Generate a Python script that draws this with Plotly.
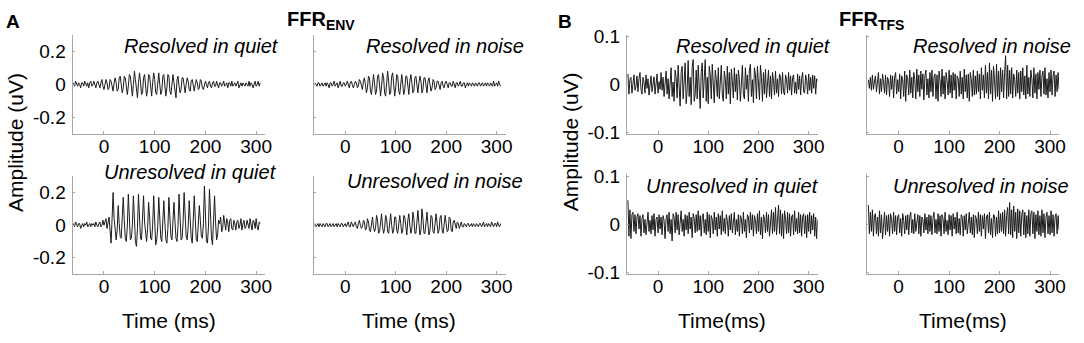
import plotly.graph_objects as go

# ---------------- data ----------------
time_env = list(range(-60, 310, 2))   # ms, panel A
time_tfs = list(range(-60, 320, 2))   # ms, panel B

env_resolved_quiet = [
    0.01, -0.01, 0.02, 0.00, -0.01, 0.01, 0.00, -0.02, 0.01, 0.01,
    -0.01, 0.02, 0.00, -0.01, 0.01, -0.02, 0.01, 0.02, -0.01, 0.00,
    0.02, -0.01, -0.02, 0.01, 0.02, 0.00, -0.02, 0.01, 0.03, -0.01,
    -0.03, 0.00, 0.03, 0.01, -0.03, -0.02, 0.03, 0.02, -0.02, -0.04,
    0.01, 0.04, 0.01, -0.04, -0.03, 0.04, 0.05, -0.01, -0.05, -0.02,
    0.05, 0.04, -0.03, -0.06, -0.01, 0.06, 0.05, -0.04, -0.07, 0.00,
    0.08, 0.03, -0.05, -0.08, 0.01, 0.07, 0.02, -0.06, -0.05, 0.04,
    0.06, -0.01, -0.07, -0.03, 0.06, 0.05, -0.04, -0.07, 0.01, 0.07,
    0.03, -0.05, -0.06, 0.03, 0.07, 0.00, -0.06, -0.04, 0.05, 0.06,
    -0.02, -0.07, -0.02, 0.06, 0.05, -0.04, -0.06, 0.02, 0.06, 0.01,
    -0.06, -0.08, 0.03, 0.05, -0.01, -0.05, -0.03, 0.04, 0.04, -0.02,
    -0.05, 0.00, 0.04, 0.02, -0.03, -0.04, 0.02, 0.03, -0.01, -0.04,
    0.00, 0.03, 0.01, -0.03, -0.02, 0.03, 0.02, -0.02, -0.03, 0.01,
    0.02, 0.00, -0.02, 0.01, 0.02, -0.01, -0.02, 0.01, 0.02, -0.01,
    -0.01, 0.02, 0.00, -0.02, 0.01, 0.01, -0.01, 0.00, 0.02, -0.01,
    0.00, 0.01, -0.02, 0.01, 0.01, -0.01, 0.02, -0.01, 0.00, 0.01,
    -0.01, 0.01, 0.02, -0.02, 0.00, 0.01, -0.01, 0.01, 0.00, -0.01,
    0.01, 0.00, -0.01, 0.02, -0.01, 0.01, 0.00, -0.02, 0.01, 0.02,
    -0.01, 0.00, 0.02, -0.01, 0.01,
]

env_resolved_noise = [
    0.01, 0.00, -0.01, 0.01, 0.01, -0.01, 0.00, 0.01, -0.01, 0.00,
    0.01, -0.01, 0.01, 0.00, -0.02, 0.01, 0.01, -0.01, 0.00, 0.02,
    -0.01, 0.00, 0.01, -0.02, 0.01, 0.02, -0.01, -0.01, 0.01, 0.01,
    -0.01, 0.00, 0.02, -0.01, -0.02, 0.01, 0.02, 0.00, -0.02, 0.00,
    0.02, 0.01, -0.02, -0.01, 0.03, 0.02, -0.02, -0.03, 0.02, 0.04,
    0.00, -0.05, -0.02, 0.05, 0.04, -0.04, -0.06, 0.02, 0.06, 0.01,
    -0.06, -0.04, 0.05, 0.06, -0.02, -0.07, -0.01, 0.07, 0.04, -0.05,
    -0.07, 0.02, 0.08, 0.02, -0.06, -0.05, 0.05, 0.07, -0.02, -0.07,
    -0.02, 0.06, 0.05, -0.04, -0.06, 0.03, 0.06, 0.00, -0.06, -0.03,
    0.05, 0.05, -0.03, -0.06, 0.02, 0.06, 0.01, -0.05, -0.04, 0.04,
    0.05, -0.02, -0.05, 0.01, 0.05, 0.02, -0.05, -0.03, 0.04, 0.04,
    -0.02, -0.05, 0.02, 0.04, 0.00, -0.04, -0.02, 0.03, 0.02, -0.03,
    -0.02, 0.02, 0.02, -0.01, -0.03, 0.01, 0.02, -0.01, -0.02, 0.01,
    0.02, 0.00, -0.02, 0.01, 0.01, -0.01, -0.01, 0.02, 0.00, -0.02,
    0.01, 0.01, -0.01, 0.00, 0.02, -0.01, -0.01, 0.01, 0.01, -0.02,
    0.00, 0.01, -0.01, 0.01, 0.00, -0.01, 0.01, 0.00, -0.01, 0.01,
    0.00, -0.01, 0.01, 0.01, -0.01, 0.00, 0.01, -0.01, 0.00, 0.01,
    -0.01, 0.01, 0.00, -0.01, 0.01, 0.00, -0.01, 0.02, -0.01, 0.00,
    0.01, -0.01, 0.02, 0.00, -0.01,
]

env_unresolved_quiet = [
    0.01, -0.01, 0.02, 0.00, -0.01, 0.01, 0.01, -0.02, 0.00, 0.01,
    -0.01, 0.01, 0.00, 0.02, -0.01, 0.00, 0.01, -0.01, 0.01, 0.00,
    0.01, -0.01, 0.02, 0.00, -0.01, 0.01, 0.02, -0.01, 0.00, 0.03,
    0.00, 0.02, 0.04, -0.02, 0.01, 0.05, -0.03, -0.11, 0.04, 0.20,
    0.04, -0.06, -0.09, -0.03, 0.12, 0.01, -0.07, -0.08, 0.02, 0.17,
    0.03, -0.08, -0.10, -0.01, 0.19, 0.02, -0.09, -0.08, 0.00, 0.18,
    0.04, -0.10, -0.13, -0.02, 0.19, 0.03, -0.08, -0.09, 0.01, 0.18,
    0.02, -0.07, -0.10, -0.02, 0.14, 0.05, -0.08, -0.09, 0.00, 0.18,
    0.03, -0.12, -0.09, -0.01, 0.17, 0.04, -0.08, -0.10, 0.00, 0.15,
    0.02, -0.09, -0.11, -0.02, 0.17, 0.03, -0.07, -0.09, 0.01, 0.14,
    0.02, -0.08, -0.10, 0.00, 0.19, 0.04, -0.09, -0.08, 0.02, 0.20,
    0.03, -0.07, -0.09, -0.01, 0.15, 0.02, -0.08, -0.11, 0.00, 0.18,
    0.04, -0.09, -0.10, -0.02, 0.12, 0.03, -0.07, -0.08, 0.01, 0.24,
    0.05, -0.10, -0.11, -0.01, 0.22, 0.03, -0.08, -0.12, 0.00, 0.18,
    0.02, -0.09, -0.06, 0.03, 0.01, 0.05, -0.04, -0.02, 0.06, 0.00,
    -0.03, 0.04, 0.02, -0.04, 0.03, 0.04, -0.02, -0.03, 0.03, 0.01,
    -0.03, 0.02, 0.03, -0.02, 0.00, 0.04, -0.03, 0.01, 0.03, -0.02,
    -0.01, 0.03, 0.00, -0.02, 0.04, -0.01, -0.03, 0.03, 0.02, -0.02,
    0.04, -0.01, -0.03, 0.02, 0.01,
]

env_unresolved_noise = [
    0.01, -0.01, 0.00, 0.01, -0.01, 0.01, 0.00, -0.01, 0.01, 0.00,
    -0.01, 0.01, 0.01, -0.01, 0.00, 0.01, -0.01, 0.00, 0.01, -0.01,
    0.00, 0.01, -0.01, 0.01, 0.00, -0.01, 0.01, 0.01, -0.01, 0.00,
    0.01, -0.01, 0.01, 0.02, -0.01, -0.01, 0.02, 0.00, -0.01, 0.01,
    0.02, -0.01, -0.02, 0.01, 0.03, 0.00, -0.02, -0.01, 0.03, 0.02,
    -0.03, -0.02, 0.04, 0.02, -0.03, -0.04, 0.03, 0.05, -0.01, -0.04,
    -0.02, 0.06, 0.03, -0.05, -0.04, 0.03, 0.07, -0.01, -0.05, -0.02,
    0.06, 0.04, -0.04, -0.05, 0.02, 0.07, 0.00, -0.05, -0.03, 0.05,
    0.05, -0.03, -0.05, 0.02, 0.06, 0.01, -0.05, -0.03, 0.06, 0.05,
    -0.03, -0.06, 0.03, 0.07, 0.00, -0.05, -0.02, 0.08, 0.04, -0.05,
    -0.05, 0.04, 0.09, 0.01, -0.06, -0.03, 0.10, 0.04, -0.05, -0.05,
    0.03, 0.08, 0.00, -0.06, -0.03, 0.06, 0.05, -0.04, -0.05, 0.03,
    0.07, 0.01, -0.05, -0.03, 0.05, 0.06, -0.03, -0.05, 0.02, 0.06,
    0.01, -0.04, -0.03, 0.05, 0.04, -0.03, -0.04, 0.02, 0.03, -0.01,
    -0.02, 0.02, 0.01, -0.02, 0.00, 0.02, -0.01, -0.01, 0.01, 0.00,
    -0.01, 0.01, 0.01, -0.01, 0.00, 0.01, -0.01, 0.01, 0.00, -0.01,
    0.01, 0.00, -0.01, 0.01, 0.01, -0.01, 0.00, 0.02, -0.01, 0.00,
    0.01, -0.01, 0.01, 0.00, -0.01, 0.02, 0.00, -0.01, 0.01, 0.01,
    -0.01, 0.02, 0.00, -0.01, 0.01,
]

tfs_resolved_quiet = [
    0.022, -0.020, 0.010, 0.015, -0.018, 0.005, 0.020, -0.012, -0.005, 0.018,
    -0.015, 0.012, 0.025, -0.010, -0.020, 0.015, 0.005, -0.018, 0.020, -0.008,
    0.012, -0.022, 0.008, 0.018, -0.015, 0.003, 0.016, -0.020, 0.010, 0.022,
    -0.018, 0.006, -0.010, 0.025, -0.012, 0.015, -0.025, 0.010, 0.028, -0.020,
    0.012, -0.030, 0.020, 0.035, -0.025, 0.005, -0.035, 0.030, 0.015, -0.028,
    0.040, -0.015, -0.045, 0.025, 0.038, -0.030, 0.010, 0.045, -0.040, -0.010,
    0.050, -0.025, 0.015, -0.042, 0.035, 0.052, -0.035, -0.020, 0.030, -0.030,
    0.040, -0.018, -0.050, 0.025, 0.045, -0.028, 0.010, 0.052, -0.035, 0.015,
    -0.040, 0.038, 0.020, -0.030, 0.042, -0.015, -0.038, 0.030, 0.010, -0.025,
    0.035, -0.030, 0.015, 0.040, -0.022, -0.035, 0.028, 0.012, -0.030, 0.038,
    -0.020, 0.025, -0.040, 0.032, 0.008, -0.028, 0.035, -0.015, 0.022, -0.032,
    0.030, 0.010, -0.035, 0.025, 0.040, -0.020, -0.030, 0.035, -0.010, 0.020,
    -0.035, 0.030, 0.042, -0.025, 0.010, -0.038, 0.035, 0.020, -0.030, 0.038,
    -0.015, -0.032, 0.040, 0.015, -0.035, 0.025, -0.020, 0.032, -0.028, 0.010,
    0.030, -0.025, 0.018, -0.030, 0.025, 0.008, -0.022, 0.028, -0.018, 0.012,
    -0.025, 0.022, 0.015, -0.020, 0.025, -0.015, -0.022, 0.020, 0.010, -0.018,
    0.025, -0.012, 0.018, -0.022, 0.015, 0.020, -0.018, 0.005, -0.020, 0.022,
    -0.010, 0.018, -0.022, 0.012, 0.025, -0.015, -0.018, 0.020, 0.008, -0.020,
    0.022, -0.012, 0.015, -0.018, 0.020, -0.008, 0.018, -0.020, 0.012, 0.008,
]

tfs_resolved_noise = [
    0.010, -0.008, 0.015, -0.012, 0.020, -0.010, 0.005, 0.018, -0.015, 0.010,
    0.025, -0.020, 0.012, -0.015, 0.022, 0.005, -0.018, 0.020, -0.022, 0.015,
    0.008, -0.025, 0.020, -0.010, 0.018, -0.028, 0.015, 0.025, -0.020, 0.010,
    -0.015, 0.022, -0.030, 0.018, 0.010, -0.025, 0.028, -0.035, 0.020, 0.012,
    -0.022, 0.030, -0.018, 0.015, -0.028, 0.025, 0.010, -0.030, 0.032, -0.015,
    0.020, -0.025, 0.028, -0.010, 0.022, -0.032, 0.018, 0.030, -0.022, 0.012,
    -0.028, 0.025, -0.015, 0.030, -0.025, 0.015, 0.022, -0.030, 0.020, -0.035,
    0.028, 0.010, -0.025, 0.032, -0.020, 0.018, -0.030, 0.025, 0.008, -0.022,
    0.030, -0.018, 0.020, -0.028, 0.025, -0.012, 0.022, -0.030, 0.018, 0.012,
    -0.025, 0.028, -0.020, 0.015, -0.030, 0.032, -0.015, 0.020, -0.028, 0.022,
    -0.035, 0.025, 0.010, -0.025, 0.030, -0.022, 0.018, -0.020, 0.028, -0.015,
    0.022, -0.030, 0.035, -0.012, 0.020, -0.028, 0.040, -0.018, 0.025, -0.030,
    0.045, -0.020, 0.030, -0.035, 0.038, 0.010, -0.030, 0.042, -0.025, 0.028,
    -0.032, 0.035, -0.015, 0.030, -0.028, 0.025, 0.060, -0.030, 0.040, -0.025,
    0.030, -0.020, 0.035, -0.028, 0.022, 0.010, -0.025, 0.030, -0.018, 0.025,
    -0.030, 0.028, -0.015, 0.035, -0.022, 0.018, -0.030, 0.040, -0.020, 0.015,
    -0.025, 0.030, 0.012, -0.028, 0.035, -0.018, 0.022, -0.030, 0.025, -0.010,
    0.030, -0.025, 0.018, 0.028, -0.020, 0.035, -0.022, 0.012, -0.028, 0.025,
    -0.015, 0.030, -0.022, 0.018, 0.028, -0.025, 0.020, -0.015, 0.025, -0.010,
]

tfs_unresolved_quiet = [
    0.050, -0.025, 0.030, -0.030, 0.020, 0.025, -0.015, 0.020, -0.020, 0.015,
    0.022, -0.010, 0.018, -0.025, 0.012, 0.020, -0.018, 0.010, -0.022, 0.015,
    0.025, -0.015, 0.008, -0.020, 0.018, -0.012, 0.022, -0.025, 0.010, 0.015,
    -0.018, 0.020, -0.010, 0.015, -0.022, 0.018, 0.008, -0.030, 0.012, 0.020,
    -0.015, 0.025, -0.020, 0.010, -0.035, 0.022, 0.015, -0.018, 0.025, -0.012,
    0.020, -0.022, 0.015, 0.028, -0.015, 0.010, -0.025, 0.020, -0.012, 0.018,
    -0.020, 0.025, -0.010, 0.015, -0.028, 0.022, 0.012, -0.018, 0.020, -0.015,
    0.028, -0.012, 0.018, -0.025, 0.015, 0.022, -0.018, 0.010, -0.022, 0.025,
    -0.015, 0.020, -0.028, 0.018, 0.010, -0.020, 0.025, -0.012, 0.015, -0.025,
    0.022, -0.010, 0.018, -0.022, 0.028, -0.015, 0.012, -0.020, 0.020, 0.008,
    -0.025, 0.018, -0.012, 0.022, -0.018, 0.015, 0.025, -0.022, 0.010, -0.015,
    0.020, -0.025, 0.018, 0.012, -0.020, 0.025, -0.015, 0.010, -0.028, 0.020,
    0.015, -0.018, 0.025, -0.012, 0.020, -0.025, 0.018, 0.008, -0.020, 0.022,
    -0.015, 0.028, -0.022, 0.015, -0.030, 0.020, 0.012, -0.018, 0.025, -0.015,
    0.020, -0.025, 0.015, 0.030, -0.020, 0.025, -0.015, 0.035, -0.022, 0.018,
    0.040, -0.020, 0.030, -0.025, 0.022, -0.030, 0.028, 0.010, -0.020, 0.025,
    -0.018, 0.022, -0.025, 0.015, 0.020, -0.022, 0.028, -0.015, 0.012, -0.020,
    0.025, -0.018, 0.020, -0.025, 0.015, 0.022, -0.020, 0.018, -0.028, 0.020,
    -0.015, 0.025, -0.020, 0.018, -0.012, 0.022, -0.025, 0.015, -0.030, 0.010,
]

tfs_unresolved_noise = [
    0.040, -0.020, 0.025, -0.015, 0.030, -0.025, 0.018, 0.022, -0.020, 0.015,
    -0.025, 0.028, -0.018, 0.020, -0.030, 0.012, 0.025, -0.022, 0.018, -0.015,
    0.020, -0.025, 0.022, 0.010, -0.020, 0.025, -0.015, 0.018, -0.022, 0.015,
    0.020, -0.018, 0.012, -0.025, 0.022, 0.008, -0.020, 0.018, -0.012, 0.020,
    -0.022, 0.015, 0.025, -0.018, 0.010, -0.020, 0.022, -0.015, 0.012, 0.020,
    -0.020, 0.018, -0.025, 0.015, 0.010, -0.018, 0.022, -0.012, 0.015, -0.020,
    0.020, -0.015, 0.018, -0.022, 0.012, 0.025, -0.018, 0.010, -0.020, 0.022,
    -0.015, 0.018, -0.025, 0.020, 0.012, -0.020, 0.025, -0.015, 0.008, -0.022,
    0.020, -0.012, 0.018, -0.025, 0.022, -0.010, 0.015, -0.020, 0.025, -0.018,
    0.012, -0.022, 0.020, 0.015, -0.025, 0.018, -0.012, 0.022, -0.020, 0.010,
    0.025, -0.018, 0.015, -0.022, 0.020, -0.028, 0.018, 0.012, -0.020, 0.025,
    -0.015, 0.020, -0.025, 0.018, -0.010, 0.022, -0.030, 0.015, 0.020, -0.018,
    0.025, -0.022, 0.012, -0.028, 0.020, 0.018, -0.025, 0.015, -0.020, 0.028,
    -0.018, 0.022, -0.015, 0.025, -0.020, 0.030, -0.025, 0.018, 0.035, -0.020,
    0.045, -0.022, 0.030, -0.028, 0.038, -0.015, 0.025, -0.030, 0.032, -0.018,
    0.028, -0.025, 0.020, 0.030, -0.022, 0.025, -0.028, 0.018, -0.020, 0.030,
    -0.025, 0.022, 0.028, -0.020, 0.025, -0.030, 0.020, -0.015, 0.028, -0.022,
    0.018, -0.025, 0.030, -0.018, 0.022, -0.028, 0.015, 0.025, -0.020, 0.018,
    -0.022, 0.028, -0.018, 0.020, -0.025, 0.015, 0.022, -0.020, 0.018, -0.012,
]

panel_titles = ["Resolved in quiet", "Resolved in noise",
                "Unresolved in quiet", "Unresolved in noise"]
x_tick_vals = [0, 100, 200, 300]
env_y_ticks = [-0.2, 0, 0.2]
env_y_text = ["-0.2", "0", "0.2"]
tfs_y_ticks = [-0.1, 0, 0.1]
tfs_y_text = ["-0.1", "0", "0.1"]

# ---------------- layout helpers ----------------
W, H = 1084, 343
FONT = "Liberation Sans, Arial, sans-serif"
AXIS_GRAY = "#a6a6a6"

def px_x(p):
    return p / W

def px_y(p):
    return 1 - p / H

# (left px, right px, top px, bottom px) for each panel
panels = [
    (73, 267, 28, 133),      # A top-left
    (316, 509, 28, 133),     # A top-right
    (73, 267, 177, 280),     # A bottom-left
    (316, 509, 177, 280),    # A bottom-right
    (631, 823, 28, 133),     # B top-left
    (873, 1066, 28, 133),    # B top-right
    (631, 823, 175, 280),    # B bottom-left
    (873, 1066, 175, 280),   # B bottom-right
]

series = [
    (time_env, env_resolved_quiet), (time_env, env_resolved_noise),
    (time_env, env_unresolved_quiet), (time_env, env_unresolved_noise),
    (time_tfs, tfs_resolved_quiet), (time_tfs, tfs_resolved_noise),
    (time_tfs, tfs_unresolved_quiet), (time_tfs, tfs_unresolved_noise),
]

fig = go.Figure()
layout = dict(
    width=W, height=H, autosize=False,
    margin=dict(l=0, r=0, t=0, b=0, pad=0),
    paper_bgcolor="white", plot_bgcolor="white",
    showlegend=False,
    font=dict(family=FONT, color="black"),
)

for i, ((xs, ys), (l, r, t, b)) in enumerate(zip(series, panels)):
    n = i + 1
    xa = "x" if n == 1 else f"x{n}"
    ya = "y" if n == 1 else f"y{n}"
    fig.add_trace(go.Scatter(x=xs, y=ys, mode="lines", xaxis=xa, yaxis=ya,
                             line=dict(color="#1c1c1c", width=1), hoverinfo="skip"))
    is_env = i < 4
    xrange = [-62, 318]
    yrange = [-0.3, 0.3] if is_env else [-0.104, 0.104]
    layout["xaxis" if n == 1 else f"xaxis{n}"] = dict(
        domain=[px_x(l), px_x(r)], anchor=ya, range=xrange,
        tickvals=x_tick_vals, ticks="inside", ticklen=3, tickcolor=AXIS_GRAY,
        showline=True, linecolor=AXIS_GRAY, linewidth=1,
        showgrid=False, zeroline=False, ticklabelstandoff=-5,
        tickfont=dict(size=19, family=FONT, color="black"),
    )
    left_col = (i % 2 == 0)
    layout["yaxis" if n == 1 else f"yaxis{n}"] = dict(
        domain=[px_y(b), px_y(t)], anchor=xa, range=yrange,
        tickvals=env_y_ticks if is_env else tfs_y_ticks,
        ticktext=env_y_text if is_env else tfs_y_text,
        showticklabels=left_col, ticks="inside", ticklen=2, tickcolor=AXIS_GRAY,
        showline=True, linecolor=AXIS_GRAY, linewidth=1,
        showgrid=False, zeroline=False, ticklabelstandoff=2,
        tickfont=dict(size=19, family=FONT, color="black"),
    )

annotations = []

def add_text(text, x, y, size, xanchor="center", yanchor="middle", angle=0, italic=False):
    annotations.append(dict(
        text=text, x=px_x(x), y=px_y(y), xref="paper", yref="paper",
        xanchor=xanchor, yanchor=yanchor, showarrow=False, textangle=angle,
        font=dict(size=size, family=FONT, color="black",
                  style="italic" if italic else "normal"),
    ))

# subplot titles (right-anchored)
title_pos = [
    (283, 40), (529, 40), (281, 173), (528, 182),
    (838, 40), (1080, 40), (826, 187), (1078, 187),
]
for i, (x, y) in enumerate(title_pos):
    add_text(panel_titles[i % 4], x, y, 20, xanchor="right", italic=True)

# panel letters and headers
add_text("<b>A</b>", 13, 14, 19)
add_text("<b>B</b>", 569, 14, 19)
add_text("<b>FFR<sub>ENV</sub></b>", 323, 13, 20)
add_text("<b>FFR<sub>TFS</sub></b>", 877, 13, 20)

# axis titles
add_text("Amplitude (uV)", 15, 141, 21, angle=-90)
add_text("Amplitude (uV)", 574, 141, 21, angle=-90)
add_text("Time (ms)", 170, 329, 21)
add_text("Time (ms)", 412, 329, 21)
add_text("Time(ms)", 727, 329, 21)
add_text("Time(ms)", 969, 329, 21)

layout["annotations"] = annotations
fig.update_layout(**layout)

page_fix = (
    "document.documentElement.style.margin='0';"
    "document.documentElement.style.overflow='hidden';"
    "document.body.style.margin='0';"
    "document.body.style.overflow='hidden';"
    "var gd=document.getElementById('{plot_id}');"
    "gd.style.position='fixed';gd.style.left='0px';gd.style.top='0px';"
)
fig.write_html(
    "out.html",
    config={"displayModeBar": False, "staticPlot": True},
    post_script=page_fix,
)
